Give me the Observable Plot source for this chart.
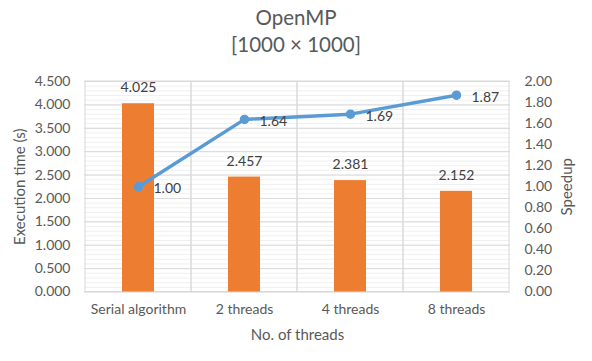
<!DOCTYPE html>
<html>
<head>
<meta charset="utf-8">
<script src="https://cdn.jsdelivr.net/npm/d3@7"></script>
<script src="https://cdn.jsdelivr.net/npm/@observablehq/plot@0.6"></script>
<style>
  html, body { margin: 0; padding: 0; background: #fff; }
  #wrap { width: 592px; height: 361px; font-family: Lato, "Open Sans", sans-serif; }
  #title { height: 60px; box-sizing: border-box; padding-top: 4px; text-align: center; color: #595959; font-size: 20.5px; line-height: 27px; }
  svg { display: block; }
</style>
</head>
<body>
<div id="wrap">
  <div id="title">OpenMP<br>[1000 × 1000]</div>
  <div id="chart"></div>
</div>
<script>
const categories = ["Serial algorithm", "2 threads", "4 threads", "8 threads"];
const execTime = [4.025, 2.457, 2.381, 2.152];
const speedup = [1.00, 1.64, 1.69, 1.87];
const leftTicks = [0, 0.5, 1, 1.5, 2, 2.5, 3, 3.5, 4, 4.5];
const rightTicks = [0, 0.2, 0.4, 0.6, 0.8, 1.0, 1.2, 1.4, 1.6, 1.8, 2.0];
const minorTicks = d3.range(0, 45).map(i => i / 10);

const yMax = 4.5, sMax = 2.0, k = yMax / sMax;
const rows = categories.map((c, i) => ({cat: c, t: execTime[i], s: speedup[i]}));
const gray = "#595959";

const chart = Plot.plot({
  width: 592,
  height: 301,
  marginTop: 21,
  marginBottom: 69.5,
  marginLeft: 84,
  marginRight: 82,
  style: {fontFamily: "Lato, 'Open Sans', sans-serif", fontSize: "14px", color: gray, background: "white"},
  x: {domain: categories, padding: 0, axis: null},
  y: {domain: [0, yMax], axis: null},
  marks: [
    Plot.ruleY(minorTicks, {stroke: "#f0f0f0", strokeWidth: 1}),
    Plot.ruleY(leftTicks, {stroke: "#d9d9d9", strokeWidth: 1}),
    Plot.barY(categories, {x: d => d, y1: 0, y2: yMax, fill: "none", stroke: "#d9d9d9", strokeWidth: 1}),
    Plot.barY(rows, {x: "cat", y: "t", fill: "#ED7D31", insetLeft: 37, insetRight: 37}),
    Plot.text(rows, {x: "cat", y: "t", text: d => d.t.toFixed(3), dy: -16, fill: "#404040", fontSize: 14}),
    Plot.line(rows, {x: "cat", y: d => d.s * k, stroke: "#5B9BD5", strokeWidth: 3.5}),
    Plot.dot(rows, {x: "cat", y: d => d.s * k, r: 4, fill: "#5B9BD5", stroke: "#5B9BD5"}),
    Plot.text(rows, {x: "cat", y: d => d.s * k, text: d => d.s.toFixed(2), dx: 15, dy: 2, textAnchor: "start", fill: "#404040", fontSize: 14}),
    Plot.axisX({tickSize: 0, tickPadding: 12, label: null, fill: gray, fontSize: 14}),
    Plot.axisY(leftTicks, {anchor: "left", tickSize: 0, tickPadding: 14, tickFormat: d => d.toFixed(3), label: null, fill: gray, fontSize: 14}),
    Plot.axisY(rightTicks.map(s => s * k), {anchor: "right", tickSize: 0, tickPadding: 14, tickFormat: d => (d / k).toFixed(2), label: null, fill: gray, fontSize: 14}),
    Plot.text(["Execution time (s)"], {frameAnchor: "left", textAnchor: "middle", lineAnchor: "middle", dx: -64, rotate: -90, fill: gray, fontSize: 15}),
    Plot.text(["Speedup"], {frameAnchor: "right", textAnchor: "middle", lineAnchor: "middle", dx: 57, rotate: -90, fill: gray, fontSize: 15}),
    Plot.text(["No. of threads"], {frameAnchor: "bottom", textAnchor: "middle", lineAnchor: "middle", dy: 43, fill: gray, fontSize: 15})
  ]
});
document.getElementById("chart").appendChild(chart);
</script>
</body>
</html>
